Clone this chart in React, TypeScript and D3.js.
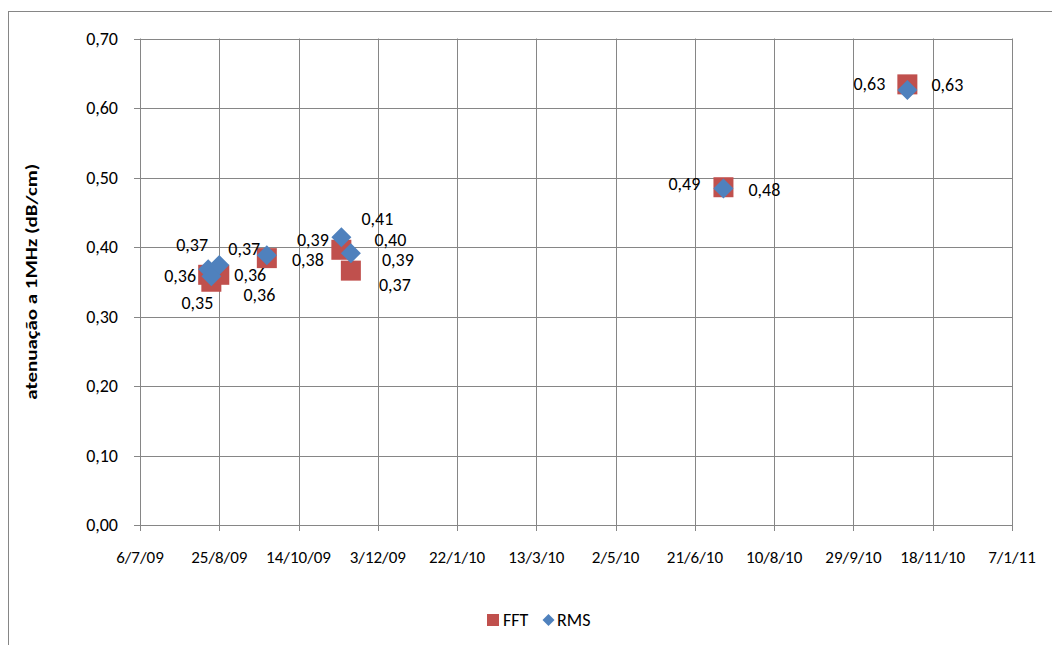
import React from "react";
import * as d3 from "d3";

// ---- data ----
const dates = ["2009-08-18", "2009-08-20", "2009-08-25", "2009-09-24", "2009-11-10", "2009-11-16", "2010-07-09", "2010-11-02"];
const fftValues = [0.36, 0.35, 0.36, 0.384, 0.396, 0.366, 0.486, 0.634];
const rmsValues = [0.368, 0.358, 0.374, 0.388, 0.414, 0.391, 0.484, 0.626];
const xTickLabels = ["6/7/09", "25/8/09", "14/10/09", "3/12/09", "22/1/10", "13/3/10", "2/5/10", "21/6/10", "10/8/10", "29/9/10", "18/11/10", "7/1/11"];
const yTicks = [0, 0.1, 0.2, 0.3, 0.4, 0.5, 0.6, 0.7];
const seriesNames = ["FFT", "RMS"];
const yTitle = "atenuação a 1MHz (dB/cm)";

// label placement (offset from marker centre), kept apart from data
const fftLabelOffset = [[-28, 1], [-14, 21], [31, 0], [41, 2], [49, -10], [44, 14], [-39, -3], [-38, 0]];
const rmsLabelOffset = [[-16, -24], [48, 19], [25, -16], [46, -15], [36, -18], [47, 7], [41, 1], [40, -5]];

const FONT = "Carlito, Calibri, Lato, 'Open Sans', sans-serif";
const GRID = "#868686";
const FFT_COLOR = "#C0504D";
const RMS_COLOR = "#4F81BD";
const FS = 18;

const parseTick = (s: string) => {
  const [d, m, y] = s.split("/").map(Number);
  return new Date(Date.UTC(2000 + y, m - 1, d));
};
const parseDate = (s: string) => new Date(s + "T00:00:00Z");
const fmt = (v: number) => v.toFixed(2).replace(".", ",");

export default function App() {
  const W = 1052, H = 645;
  const left = 140, right = 1012, top = 38.5, bottom = 525;
  const tickDates = xTickLabels.map(parseTick);
  const x = d3.scaleUtc().domain([tickDates[0], tickDates[tickDates.length - 1]]).range([left, right]);
  const y = d3.scaleLinear().domain([0, 0.7]).range([bottom, top]);

  const sq = 20;
  const dg = 10;
  const diamond = (cx: number, cy: number, r: number) =>
    `M${cx},${cy - r}L${cx + r},${cy}L${cx},${cy + r}L${cx - r},${cy}Z`;

  return (
    <svg width={W} height={H} style={{ position: "absolute", left: 0, top: 0, background: "#fff" }} fontFamily={FONT}>
      <rect x={8.5} y={11.5} width={1200} height={800} fill="#fff" stroke={GRID} strokeWidth={1} />
      {/* grid */}
      {yTicks.map((t, i) => (
        <g key={"y" + i}>
          <line x1={left - 6} x2={right} y1={Math.round(y(t)) + 0.5} y2={Math.round(y(t)) + 0.5} stroke={GRID} strokeWidth={1} />
          <text x={left - 22} y={y(t)} textAnchor="end" dominantBaseline="central" fontSize={FS} fill="#000">{fmt(t)}</text>
        </g>
      ))}
      {tickDates.map((d, i) => (
        <g key={"x" + i}>
          <line x1={Math.round(x(d)) + 0.5} x2={Math.round(x(d)) + 0.5} y1={top} y2={bottom + 6} stroke={GRID} strokeWidth={1} />
          <text x={x(d)} y={557} textAnchor="middle" dominantBaseline="central" fontSize={17} fill="#000">{xTickLabels[i]}</text>
        </g>
      ))}
      {/* axis title */}
      <text transform={`translate(31,${(top + bottom) / 2}) rotate(-90)`} textAnchor="middle" dominantBaseline="central" fontSize={16} fontWeight="bold" fill="#000" textLength={236} lengthAdjust="spacingAndGlyphs">{yTitle}</text>
      {/* FFT squares */}
      {dates.map((ds, i) => {
        const cx = x(parseDate(ds)), cy = y(fftValues[i]);
        return <rect key={"f" + i} x={cx - sq / 2} y={cy - sq / 2} width={sq} height={sq} fill={FFT_COLOR} />;
      })}
      {/* RMS diamonds */}
      {dates.map((ds, i) => {
        const cx = x(parseDate(ds)), cy = y(rmsValues[i]);
        return <path key={"r" + i} d={diamond(cx, cy, dg)} fill={RMS_COLOR} />;
      })}
      {/* labels */}
      {dates.map((ds, i) => {
        const cx = x(parseDate(ds)), cy = y(fftValues[i]);
        return <text key={"fl" + i} x={cx + fftLabelOffset[i][0]} y={cy + fftLabelOffset[i][1]} textAnchor="middle" dominantBaseline="central" fontSize={FS} fill="#000">{fmt(fftValues[i])}</text>;
      })}
      {dates.map((ds, i) => {
        const cx = x(parseDate(ds)), cy = y(rmsValues[i]);
        return <text key={"rl" + i} x={cx + rmsLabelOffset[i][0]} y={cy + rmsLabelOffset[i][1]} textAnchor="middle" dominantBaseline="central" fontSize={FS} fill="#000">{fmt(rmsValues[i])}</text>;
      })}
      {/* legend */}
      <rect x={487} y={614} width={12} height={12} fill={FFT_COLOR} />
      <text x={503} y={620} dominantBaseline="central" fontSize={FS} fill="#000">{seriesNames[0]}</text>
      <path d={diamond(548.5, 620, 6)} fill={RMS_COLOR} />
      <text x={557} y={620} dominantBaseline="central" fontSize={FS} fill="#000">{seriesNames[1]}</text>
    </svg>
  );
}
